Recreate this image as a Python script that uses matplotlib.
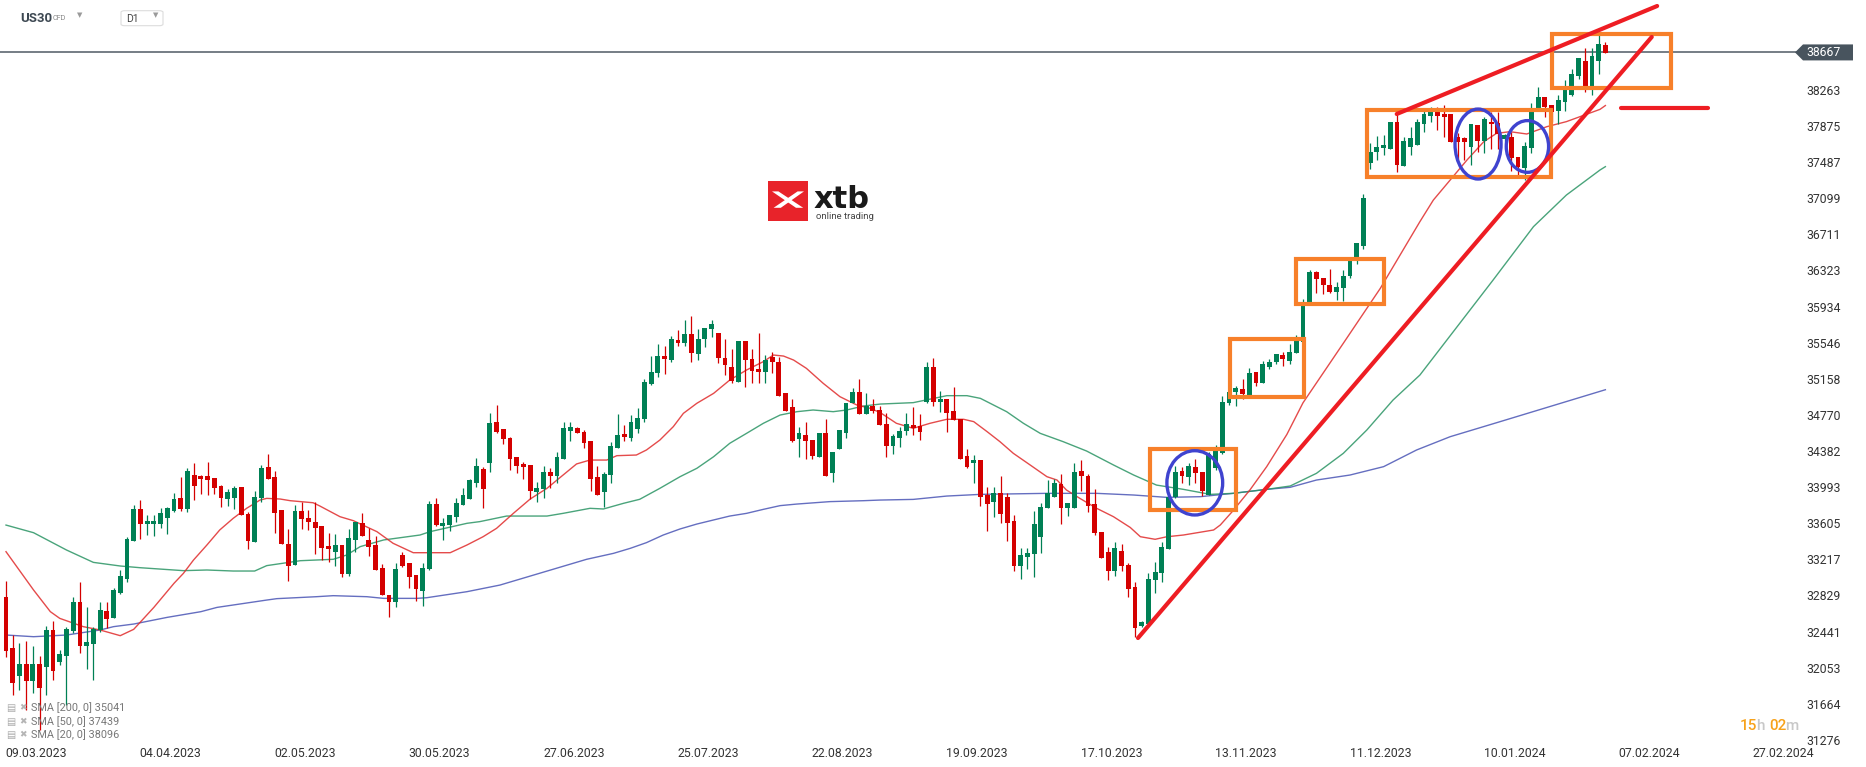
import numpy as np
import matplotlib
matplotlib.use("Agg")
import matplotlib.pyplot as plt
from matplotlib.patches import Rectangle, Ellipse, Polygon, FancyBboxPatch

plt.rcParams["font.family"] = ["Roboto", "DejaVu Sans"]

UP_COL    = "#008055"
DOWN_COL  = "#d40000"
SMA20_COL = "#e02b2b"
SMA50_COL = "#2a9464"
SMA200_COL = "#4a55b5"
MARK_RED  = "#ee1d23"
BOX_ORG   = "#f7802a"
ELL_BLUE  = "#3f43cf"
TEXT_COL  = "#333333"

# daily candles, US30 (D1), oldest first
opens = [32816, 32261, 31963, 32092, 31910, 32092, 32064, 32458, 32114, 32178,
         32451, 32763, 32286, 32307, 32458, 32666, 32583, 32852, 33003, 33415,
         33759, 33597, 33597, 33597, 33665, 33741, 33873, 33759, 34124, 34113,
         34113, 34088, 34006, 33866, 33881, 33992, 33705, 33407, 33873, 34207,
         34099, 33748, 33383, 33157, 33737, 33665, 33615, 33576, 33361, 33293,
         33372, 33060, 33426, 33605, 33426, 33372, 33121, 32834, 32762, 33264,
         33175, 33049, 32881, 33114, 33809, 33576, 33587, 33676, 33802, 33866,
         34042, 34189, 34257, 34698, 34619, 34526, 34318, 34243, 34232, 33945,
         33977, 34156, 34117, 34296, 34601, 34633, 34586, 34490, 34103, 33945,
         34128, 34418, 34565, 34526, 34619, 34723, 35099, 35217, 35403, 35360,
         35575, 35547, 35640, 35421, 35583, 35690, 35654, 35378, 35285, 35128,
         35565, 35371, 35264, 35235, 35389, 35343, 35002, 34859, 34515, 34554,
         34500, 34321, 34572, 34142, 34400, 34579, 34895, 35013, 34780, 34869,
         34823, 34672, 34440, 34518, 34601, 34662, 34651, 34912, 35280, 34912,
         34941, 34812, 34726, 34328, 34250, 34285, 33909, 33837, 33927, 33891,
         33630, 33150, 33246, 33271, 33461, 33766, 33891, 34024, 33766, 33773,
         34171, 34117, 33812, 33508, 33293, 33096, 33307, 33157, 32916, 32504,
         32519, 32995, 33067, 33328, 33891, 34167, 34106, 34214, 34160, 33909,
         34197, 34364, 34895, 35020, 35049, 34973, 35228, 35117, 35289, 35336,
         35414, 35353, 35432, 35558, 35977, 36303, 36238, 36167, 36095, 36131,
         36264, 36425, 36586, 37475, 37600, 37643, 37629, 37923, 37450, 37647,
         37672, 37897, 37987, 38030, 38005, 38005, 37754, 37743, 37654, 37887,
         37718, 37915, 37912, 37733, 37754, 37539, 37421, 37636, 38066, 38184,
         38102, 38037, 38138, 38209, 38413, 38575, 38306, 38578, 38747]
highs = [32984, 32404, 32314, 32343, 32286, 32178, 32501, 32555, 32243, 32494,
         32816, 32974, 32709, 32494, 32755, 32762, 32906, 33103, 33461, 33802,
         33856, 33694, 33694, 33766, 33784, 33927, 34099, 34196, 34250, 34124,
         34260, 34088, 34017, 33970, 34006, 33992, 33730, 33956, 34232, 34350,
         34171, 33748, 33544, 33802, 33830, 33748, 33830, 33576, 33504, 33486,
         33372, 33547, 33623, 33712, 33551, 33468, 33168, 32834, 33175, 33293,
         33175, 33049, 33182, 33848, 33873, 33658, 33694, 33881, 33981, 34081,
         34303, 34214, 34787, 34877, 34619, 34536, 34318, 34268, 34232, 34049,
         34225, 34196, 34368, 34698, 34698, 34644, 34608, 34490, 34225, 34153,
         34483, 34780, 34658, 34769, 34841, 35153, 35403, 35529, 35511, 35622,
         35683, 35790, 35833, 35690, 35701, 35790, 35654, 35586, 35475, 35565,
         35565, 35479, 35654, 35414, 35443, 35396, 35002, 34938, 34644, 34694,
         34500, 34572, 34723, 34368, 34608, 34895, 35063, 35153, 35002, 34941,
         34866, 34787, 34565, 34644, 34787, 34859, 34780, 35340, 35380, 35027,
         34941, 35067, 34726, 34400, 34339, 34285, 33992, 33992, 34113, 33927,
         33694, 33343, 33336, 33737, 33819, 34070, 34077, 34131, 33827, 34250,
         34285, 34131, 33970, 33508, 33354, 33400, 33379, 33182, 32977, 32558,
         33067, 33193, 33400, 33909, 34221, 34207, 34257, 34293, 34160, 34375,
         34447, 34973, 35038, 35081, 35156, 35271, 35228, 35353, 35368, 35425,
         35443, 35533, 35629, 36013, 36328, 36317, 36238, 36339, 36195, 36328,
         36461, 36615, 37145, 37690, 37768, 37779, 37923, 38001, 37761, 37869,
         37948, 38048, 38077, 38084, 38102, 38005, 37797, 37760, 37897, 37887,
         37976, 38030, 38030, 37790, 37815, 37539, 37708, 38120, 38292, 38184,
         38102, 38209, 38370, 38485, 38603, 38711, 38711, 38872, 38783]
lows = [32171, 31759, 31813, 31598, 31777, 31383, 31759, 31920, 32082, 31652,
        32422, 32214, 32039, 31920, 32440, 32476, 32583, 32845, 32978, 33415,
        33433, 33479, 33469, 33551, 33490, 33730, 33741, 33730, 33856, 33920,
        33909, 33916, 33784, 33791, 33759, 33694, 33332, 33407, 33838, 34081,
        33504, 33383, 32988, 33157, 33544, 33533, 33275, 33210, 33193, 33146,
        33024, 33042, 33300, 33468, 33253, 33103, 32834, 32601, 32709, 33132,
        32906, 32773, 32716, 33103, 33576, 33426, 33526, 33622, 33802, 33866,
        33992, 33773, 34160, 34572, 34458, 34178, 34150, 34081, 33863, 33838,
        33880, 33981, 34042, 34296, 34493, 34572, 34418, 33956, 33909, 33784,
        34042, 34418, 34493, 34493, 34572, 34698, 35092, 35181, 35210, 35343,
        35511, 35515, 35343, 35360, 35504, 35611, 35325, 35199, 35110, 35128,
        35067, 35117, 35117, 35110, 35217, 34974, 34812, 34483, 34321, 34293,
        34293, 34321, 34117, 34045, 34400, 34518, 34895, 34780, 34780, 34787,
        34662, 34314, 34350, 34429, 34554, 34554, 34500, 34900, 34866, 34805,
        34590, 34715, 34296, 34196, 34034, 33790, 33526, 33676, 33612, 33418,
        33092, 33002, 33110, 33024, 33282, 33766, 33891, 33597, 33687, 33773,
        33956, 33730, 33479, 33228, 32995, 33042, 33096, 32816, 32379, 32494,
        32519, 32852, 32970, 33328, 33873, 34042, 34017, 34042, 33898, 33909,
        34180, 34350, 34877, 34870, 34938, 34973, 35085, 35110, 35264, 35314,
        35300, 35314, 35432, 35558, 35977, 36084, 36066, 36077, 36005, 35998,
        36238, 36389, 36550, 37410, 37510, 37564, 37629, 37385, 37450, 37564,
        37672, 37808, 37923, 37833, 37754, 37708, 37500, 37510, 37457, 37600,
        37582, 37625, 37625, 37700, 37396, 37313, 37295, 37589, 38066, 37976,
        37923, 37898, 38037, 38198, 38381, 38245, 38209, 38435, 38664]
closes = [32235, 31891, 32092, 31910, 32092, 31838, 32458, 32021, 32200, 32469,
          32763, 32286, 32325, 32465, 32673, 32576, 32888, 33038, 33440, 33759,
          33597, 33626, 33626, 33712, 33766, 33866, 33759, 34167, 34006, 34085,
          34070, 33988, 33881, 33938, 33988, 33694, 33418, 33888, 34196, 34081,
          33719, 33383, 33150, 33737, 33651, 33615, 33551, 33343, 33329, 33372,
          33060, 33450, 33615, 33468, 33354, 33103, 32834, 32762, 33110, 33150,
          33031, 32899, 33128, 33813, 33587, 33605, 33694, 33827, 33909, 34070,
          34221, 33977, 34680, 34590, 34508, 34297, 34225, 34214, 33956, 33988,
          34156, 34117, 34318, 34633, 34644, 34572, 34472, 34081, 33909, 34135,
          34436, 34554, 34529, 34694, 34741, 35128, 35235, 35403, 35375, 35586,
          35547, 35636, 35432, 35583, 35701, 35747, 35385, 35303, 35138, 35565,
          35360, 35246, 35235, 35360, 35343, 34974, 34812, 34490, 34572, 34490,
          34332, 34572, 34117, 34368, 34608, 34895, 35013, 34780, 34866, 34816,
          34662, 34440, 34543, 34601, 34669, 34626, 34583, 35290, 34912, 34941,
          34794, 34715, 34296, 34214, 34285, 33884, 33812, 33927, 33705, 33612,
          33150, 33264, 33289, 33597, 33784, 33927, 34042, 33773, 33827, 34160,
          34117, 33794, 33504, 33228, 33096, 33336, 33150, 32895, 32483, 32540,
          33006, 33078, 33354, 33891, 34152, 34113, 34221, 34142, 33952, 34346,
          34386, 34913, 35013, 35063, 34995, 35224, 35117, 35318, 35336, 35425,
          35368, 35443, 35565, 35977, 36303, 36228, 36167, 36095, 36145, 36267,
          36425, 36615, 37098, 37600, 37647, 37672, 37923, 37457, 37715, 37750,
          37923, 38005, 38030, 37987, 37976, 37708, 37708, 37708, 37897, 37718,
          37948, 37894, 37790, 37779, 37528, 37439, 37661, 38030, 38184, 38084,
          38030, 38156, 38270, 38435, 38603, 38306, 38628, 38754, 38664]

# moving averages (bar position, value)
sma20_x = [0, 4.1, 6.6, 8.0, 11.5, 14, 17, 19, 22, 25, 26.4, 27.9, 29.9, 31.8, 33.8,
           35.8, 37.8, 38.8, 40.8, 42.3, 45.7, 46.7, 49.7, 51.7, 55.2, 57.6, 60.6,
           66.1, 68.6, 71, 73, 75.5, 78, 80.5, 82.9, 84.9, 86.9, 89.4, 90.9, 93.8,
           95.3, 97.3, 99.3, 100.8, 102.8, 105.3, 107.7, 110.2, 112.7, 114.2, 115.7,
           117.2, 119.1, 121.6, 124.1, 126.6, 128.6, 130.1, 132.5, 135, 137.5, 140,
           142.5, 144, 146, 147.9, 149.9, 152.4, 154.9, 156.4, 157.8, 159.8, 162.3,
           164.8, 167.3, 168.8, 171, 172.7, 175.2, 179.7, 180.7, 182.6, 185.1, 187.6,
           190.6, 193, 199, 204.5, 210.4, 212.4, 214.9, 217.4, 219.9, 221.8, 223.8,
           226.3, 229.3, 232.2, 237.2, 238]
sma20_y = [33300, 32888, 32655, 32583, 32494, 32458, 32397, 32465, 32701, 32960, 33067,
           33210, 33372, 33533, 33658, 33766, 33855, 33873, 33866, 33848, 33826, 33791,
           33676, 33633, 33515, 33390, 33289, 33289, 33372, 33461, 33551, 33712, 33866,
           33981, 34124, 34243, 34285, 34285, 34332, 34339, 34393, 34500, 34644, 34787,
           34895, 35002, 35145, 35253, 35343, 35414, 35403, 35360, 35271, 35110, 34966,
           34877, 34841, 34795, 34680, 34626, 34680, 34723, 34723, 34698, 34590, 34483,
           34357, 34232, 34106, 34070, 33963, 33873, 33766, 33676, 33560, 33461, 33433,
           33460, 33479, 33533, 33587, 33741, 33963, 34214, 34560, 34900, 35540, 36130,
           36848, 37080, 37295, 37510, 37707, 37797, 37815, 37790, 37869, 37923, 38055,
           38096]
sma50_x = [0, 4.1, 9, 13, 17, 19.9, 26.4, 29.9, 33.8, 37, 38.8, 43.8, 48.7, 50.7, 52.7,
           56.2, 61.6, 63.1, 68.6, 70.5, 74.5, 80.5, 82.9, 86.9, 88.9, 91.9, 94.3, 97.3,
           100.3, 102.8, 105.3, 107.7, 110.2, 112.7, 115.2, 117.7, 120.1, 123.1, 125.1,
           127.6, 130.1, 135, 140, 143, 145, 148.9, 151.4, 153.9, 157.3, 160.8, 164.8,
           167.8, 171.2, 175.2, 179.2, 182.6, 187.6, 191.1, 195, 199, 202.5, 206.4,
           210.4, 221.3, 227.3, 232.2, 237.2, 238]
sma50_y = [33586, 33504, 33318, 33185, 33146, 33128, 33096, 33103, 33092, 33092, 33150,
           33203, 33218, 33264, 33354, 33426, 33479, 33515, 33605, 33623, 33683, 33683,
           33712, 33766, 33759, 33820, 33863, 33981, 34106, 34196, 34321, 34465, 34572,
           34680, 34769, 34805, 34823, 34805, 34823, 34866, 34887, 34902, 34977, 34977,
           34948, 34805, 34680, 34572, 34483, 34382, 34232, 34124, 34016, 33970, 33916,
           33927, 33970, 34006, 34142, 34357, 34608, 34930, 35199, 36221, 36794, 37134,
           37403, 37439]
sma200_x = [0, 4.1, 9, 14, 16, 19, 24, 29, 31.4, 38.8, 40.3, 46.2, 48.7, 53.7, 56.2,
            61.1, 62.6, 68.6, 73.5, 86.4, 90.4, 92.9, 95.3, 97.8, 100.3, 102.8, 105.3,
            107.7, 110.2, 112.7, 115.2, 117.7, 122.6, 127.6, 130.1, 135, 140, 145,
            154.9, 162.3, 167.8, 172.7, 177.7, 182.6, 187.6, 191.1, 195, 200, 205,
            209.9, 214.9, 222.3, 238]
sma200_y = [32404, 32386, 32404, 32458, 32494, 32522, 32594, 32655, 32701, 32780, 32795,
            32816, 32827, 32816, 32798, 32798, 32805, 32870, 32941, 33218, 33282, 33336,
            33397, 33479, 33544, 33597, 33641, 33683, 33712, 33755, 33795, 33812, 33838,
            33848, 33855, 33862, 33898, 33916, 33927, 33927, 33909, 33884, 33891, 33927,
            33970, 33992, 34070, 34124, 34214, 34393, 34536, 34697, 35041]

y_ticks = [38263, 37875, 37487, 37099, 36711, 36323, 35934, 35546, 35158, 34770,
           34382, 33993, 33605, 33217, 32829, 32441, 32053, 31664, 31276]
date_labels = ["09.03.2023", "04.04.2023", "02.05.2023", "30.05.2023", "27.06.2023",
               "25.07.2023", "22.08.2023", "19.09.2023", "17.10.2023", "13.11.2023",
               "11.12.2023", "10.01.2024", "07.02.2024", "27.02.2024"]
last_price = 38667

# hand drawn markup (bar position, price)
trend_lower = ([168.45, 244.9], [32372, 38833])
trend_upper = ([206.95, 245.7], [38005, 39166])
level_line = ([240.3, 253.2], [38066, 38066])
boxes = [(230.0, 247.8, 38281, 38862),
         (202.6, 229.9, 37331, 38048),
         (191.9, 205.1, 35959, 36446),
         (182.1, 193.2, 34960, 35586),
         (170.3, 183.1, 33748, 34401)]
circles = [(176.9, 34040, 8.3, 691),
           (219.05, 37682, 6.85, 752),
           (226.4, 37656, 6.3, 556)]


fig = plt.figure(figsize=(18.66, 7.67), dpi=100, facecolor="white")
ax = fig.add_axes([0, 22 / 767, 1800 / 1866, 745 / 767])
ax.set_facecolor("white")
ax.set_xlim(-0.893, 266.96)
ax.set_ylim(31221.75, 39230.5)
for s in ax.spines.values():
    s.set_visible(False)

# candles
o = np.array(opens); h = np.array(highs); l = np.array(lows); c = np.array(closes)
idx = np.arange(len(o))
cols = np.where(c >= o, UP_COL, DOWN_COL)
ax.vlines(idx, l, h, colors=cols, lw=0.9, zorder=3)
ax.bar(idx, np.maximum(np.abs(c - o), 12), bottom=np.minimum(o, c), width=0.72,
       color=cols, linewidth=0, zorder=4)

# moving averages
ax.plot(sma200_x, sma200_y, color=SMA200_COL, lw=1.0, alpha=0.85, zorder=2)
ax.plot(sma50_x, sma50_y, color=SMA50_COL, lw=1.0, alpha=0.85, zorder=2)
ax.plot(sma20_x, sma20_y, color=SMA20_COL, lw=1.0, alpha=0.85, zorder=2)

# current price line
ax.axhline(last_price, color="#4f5a64", lw=1.1, zorder=2.5)

# markup
for xs, ys in (trend_lower, trend_upper, level_line):
    ax.plot(xs, ys, color=MARK_RED, lw=3.0, solid_capstyle="round", zorder=8)
for x0, x1, y0, y1 in boxes:
    ax.add_patch(Rectangle((x0, y0), x1 - x0, y1 - y0, fill=False,
                           ec=BOX_ORG, lw=3.0, zorder=7))
for cx, cy, w, hh in circles:
    ax.add_patch(Ellipse((cx, cy), w, hh, fill=False, ec=ELL_BLUE, lw=2.4, zorder=7))

# axes labels
ax.yaxis.tick_right()
ax.set_yticks(y_ticks)
ax.set_yticklabels([str(v) for v in y_ticks])
ax.set_xticks([4.5 + 20 * k for k in range(len(date_labels))])
ax.set_xticklabels(date_labels)
ax.tick_params(axis="y", length=0, pad=4.3, labelsize=8.8, labelcolor=TEXT_COL)
ax.tick_params(axis="x", length=0, pad=1.5, labelsize=8.8, labelcolor=TEXT_COL)

# price tag
_, ty = ax.transData.transform((0, last_price))
tx = ax.transAxes.transform((1, 0))[0] - 5
tag = Polygon([(tx, ty), (tx + 8, ty + 8), (tx + 58, ty + 8), (tx + 58, ty - 8),
               (tx + 8, ty - 8)], closed=True, fc="#48545e", ec="none",
              transform=None, zorder=10)
fig.add_artist(tag)
fig.text((tx + 11) / 1866, ty / 767, str(last_price), color="white", fontsize=8.8,
         va="center", ha="left", zorder=11)

# header
fig.text(20.5 / 1866, 1 - 18 / 767, "US30", fontsize=9.5, fontweight="bold",
         color="#3d4852", va="center")
fig.text(53 / 1866, 1 - 18 / 767, "CFD", fontsize=5.2, color="#888888", va="center")
fig.text(80 / 1866, 1 - 15 / 767, "▼", fontsize=5, color="#9a9a9a", va="center",
         ha="center", family="DejaVu Sans")
fig.add_artist(FancyBboxPatch((121 / 1866, 1 - 25.7 / 767), 42 / 1866, 15 / 767,
                              boxstyle="round,pad=0,rounding_size=0.002",
                              fc="white", ec="#dcdcdc", lw=0.8,
                              transform=fig.transFigure))
fig.text(126 / 1866, 1 - 18.5 / 767, "D1", fontsize=7.5, color="#444444", va="center")
fig.text(155.5 / 1866, 1 - 15.5 / 767, "▼", fontsize=5, color="#9a9a9a", va="center",
         ha="center", family="DejaVu Sans")

# logo
lax = fig.add_axes([768 / 1866, 1 - 221 / 767, 40 / 1866, 40 / 767])
lax.set_xlim(0, 1); lax.set_ylim(0, 1); lax.axis("off")
lax.add_patch(Rectangle((0, 0), 1, 1, fc="#e8232a", ec="none"))
lax.add_patch(Polygon([(0.10, 0.74), (0.26, 0.74), (0.88, 0.33), (0.70, 0.33)],
                      fc="white", ec="none"))
lax.add_patch(Polygon([(0.14, 0.33), (0.32, 0.33), (0.90, 0.74), (0.74, 0.74)],
                      fc="white", ec="none"))
fig.text(814 / 1866, 1 - 208 / 767, "xtb", fontsize=22, fontweight="bold",
         color="#1a1a1a", va="baseline", family="DejaVu Sans")
fig.text(816 / 1866, 1 - 219 / 767, "online trading", fontsize=6.8, color="#444444",
         va="baseline")

# SMA legend
legend_rows = [("SMA [200, 0] %d" % sma200_y[-1], 707.5),
               ("SMA [50, 0] %d" % sma50_y[-1], 721.5),
               ("SMA [20, 0] %d" % sma20_y[-1], 735)]
for label, yy in legend_rows:
    fig.text(6 / 1866, 1 - yy / 767, "▤", fontsize=7, color="#aaaaaa", va="center",
             family="DejaVu Sans")
    fig.text(19 / 1866, 1 - yy / 767, "✖", fontsize=6.5, color="#b5b5b5", va="center",
             family="DejaVu Sans")
    fig.text(31 / 1866, 1 - yy / 767, label, fontsize=7.8, color="#777777", va="center")

# countdown
for txt, xx, col in (("15", 1740, "#f7a21b"), ("h", 1756, "#c8c8c8"),
                     ("02", 1769, "#f7a21b"), ("m", 1785, "#c8c8c8")):
    fig.text(xx / 1866, 1 - 726 / 767, txt, fontsize=11, color=col, va="center",
             fontweight="medium")

fig.savefig("out.png", dpi=100, facecolor="white")
